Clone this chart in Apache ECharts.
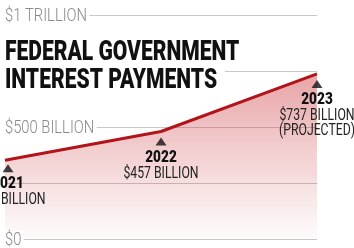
<!DOCTYPE html>
<html><head><meta charset="utf-8">
<script src="https://cdn.jsdelivr.net/npm/echarts@6/dist/echarts.min.js"></script>
<style>html,body{margin:0;padding:0;background:#fff}#c{width:354px;height:248px}</style>
</head><body><div id="c"></div>
<script>
var years = ['2021', '2022', '2023'];
var values = [352, 480, 737];
var valueLabels = ['$352 BILLION', '$457 BILLION', '$737 BILLION'];
var notes = ['', '', '(PROJECTED)'];
var tickValues = [0, 500, 1000];
var tickLabels = ['$0', '$500 BILLION', '$1 TRILLION'];
var titleLines = ['FEDERAL GOVERNMENT', 'INTEREST PAYMENTS'];
var FONT = 'Roboto, "Liberation Sans", sans-serif';

var chart = echarts.init(document.getElementById('c'), null, {renderer: 'canvas'});
chart.setOption({
  animation: false,
  backgroundColor: '#fff',
  grid: {left: 5, right: 37, top: 15, bottom: 9, containLabel: false},
  xAxis: {
    type: 'category', data: years, boundaryGap: false,
    axisLine: {show: false}, axisTick: {show: false}, axisLabel: {show: false}, splitLine: {show: false}
  },
  yAxis: {
    type: 'value', min: 0, max: 1000, interval: 250,
    axisLine: {show: false}, axisTick: {show: false}, axisLabel: {show: false},
    splitLine: {lineStyle: {color: '#c8c8c8', width: 1}}
  },
  series: [
    {
      type: 'line', data: values, symbol: 'none', z: 3,
      lineStyle: {color: '#b3141c', width: 3},
      areaStyle: {
        color: new echarts.graphic.LinearGradient(0, 0, 0, 1, [
          {offset: 0, color: 'rgba(200,40,45,0.6)'},
          {offset: 0.5, color: 'rgba(200,40,45,0.3)'},
          {offset: 1, color: 'rgba(200,40,45,0.02)'}
        ])
      }
    },
    {
      type: 'scatter', z: 4,
      data: values.map(function (v, i) {
        return {value: [years[i], v], symbolOffset: [i === 0 ? 3 : 0, i === 0 ? 8 : 10]};
      }),
      symbol: 'triangle', symbolSize: [11, 8],
      itemStyle: {color: '#111'}
    }
  ]
});

var g = [];
// title
titleLines.forEach(function (t, i) {
  g.push({
    type: 'text', x: 5, y: 53 + i * 28, scaleX: 0.78, z: 100,
    style: {
      text: t, fontFamily: FONT, fontWeight: 900, fontSize: 27,
      fill: '#111', align: 'left', verticalAlign: 'middle',
      backgroundColor: '#fff', padding: [2, 10, 2, 0]
    }
  });
});
// axis labels
tickValues.forEach(function (v, i) {
  var y = chart.convertToPixel({yAxisIndex: 0}, v);
  g.push({
    type: 'text', x: 5, y: y + 1, scaleX: 0.82, z: 100,
    style: {
      text: tickLabels[i], fontFamily: FONT, fontWeight: 300, fontSize: 18,
      fill: '#8a8a8a', align: 'left', verticalAlign: 'middle',
      backgroundColor: '#fff', padding: [0, 3, 0, 0]
    }
  });
});
// point labels
values.forEach(function (v, i) {
  var p = chart.convertToPixel({xAxisIndex: 0, yAxisIndex: 0}, [years[i], v]);
  var cx = Math.max(p[0], 8);
  var dy = i === 0 ? -2 : 0;
  g.push({
    type: 'text', x: cx, y: p[1] + 26 + dy, scaleX: 0.8, z: 100,
    style: {text: years[i], fontFamily: FONT, fontWeight: 900, fontSize: 17,
      fill: '#111', align: 'center', verticalAlign: 'middle'}
  });
  g.push({
    type: 'text', x: cx, y: p[1] + 42 + dy, scaleX: 0.72, z: 100,
    style: {text: valueLabels[i], fontFamily: FONT, fontWeight: 'normal', fontSize: 17,
      fill: '#222', align: 'center', verticalAlign: 'middle'}
  });
  if (notes[i]) {
    g.push({
      type: 'text', x: cx, y: p[1] + 57 + dy, scaleX: 0.72, z: 100,
      style: {text: notes[i], fontFamily: FONT, fontWeight: 'normal', fontSize: 17,
        fill: '#222', align: 'center', verticalAlign: 'middle'}
    });
  }
});
chart.setOption({graphic: g});
</script></body></html>
